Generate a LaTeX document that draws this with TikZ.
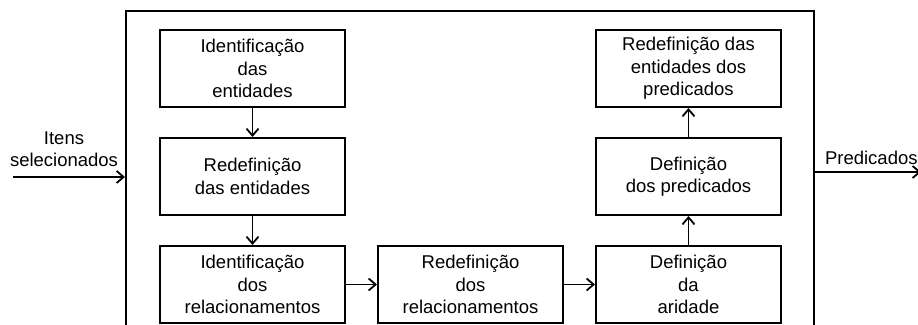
\documentclass[tikz,border=0pt]{standalone}
\usepackage{fontspec}
\setmainfont{Liberation Sans}
\usetikzlibrary{positioning,arrows.meta}

\begin{document}
\begin{tikzpicture}[
      x=0.5pt,y=-0.5pt,
      node distance=14.5pt and 15.5pt,
      every node/.style={font=\fontsize{9.25}{11.15}\selectfont,align=center},
      etapa/.style={draw,line width=1pt,minimum width=92.5pt,minimum height=38.5pt,inner sep=0pt},
      seta/.style={-{Straight Barb[length=3.5pt,width=6pt]},line width=0.9pt}
    ]
      \useasboundingbox (0,0) rectangle (918,325);
      \node[draw,line width=1pt,minimum width=344pt,minimum height=166pt] (sistema) at (470,177) {};
      % etapas
      \node[etapa] (identEnt) at (252.5,68.5) {Identificação\\das\\entidades};
      \node[etapa,below=of identEnt] (redefEnt) {Redefinição\\das entidades};
      \node[etapa,below=of redefEnt] (identRel) {Identificação\\dos\\relacionamentos};
      \node[etapa,right=of identRel] (redefRel) {Redefinição\\dos\\relacionamentos};
      \node[etapa,right=of redefRel] (defAri) {Definição\\da\\aridade};
      \node[etapa,above=of defAri] (defPred) {Definição\\dos predicados};
      \node[etapa,above=of defPred] (redefPred) {Redefinição das\\entidades dos\\predicados};
      \draw[seta] (identEnt) -- (redefEnt);
      \draw[seta] (redefEnt) -- (identRel);
      \draw[seta] (identRel) -- (redefRel);
      \draw[seta] (redefRel) -- (defAri);
      \draw[seta] (defAri) -- (defPred);
      \draw[seta] (defPred) -- (redefPred);
      % entrada e saida
      \coordinate (entrada) at (13,177);
      \coordinate (saida) at (921,172);
      \node (lblEntrada) at (64,149) {Itens\\selecionados};
      \node[anchor=west] (lblSaida) at (818,158) {Predicados};
      \draw[seta] (entrada) -- (sistema.west);
      \draw[seta] (sistema.east |- saida) -- (saida);
    \end{tikzpicture}
\end{document}
